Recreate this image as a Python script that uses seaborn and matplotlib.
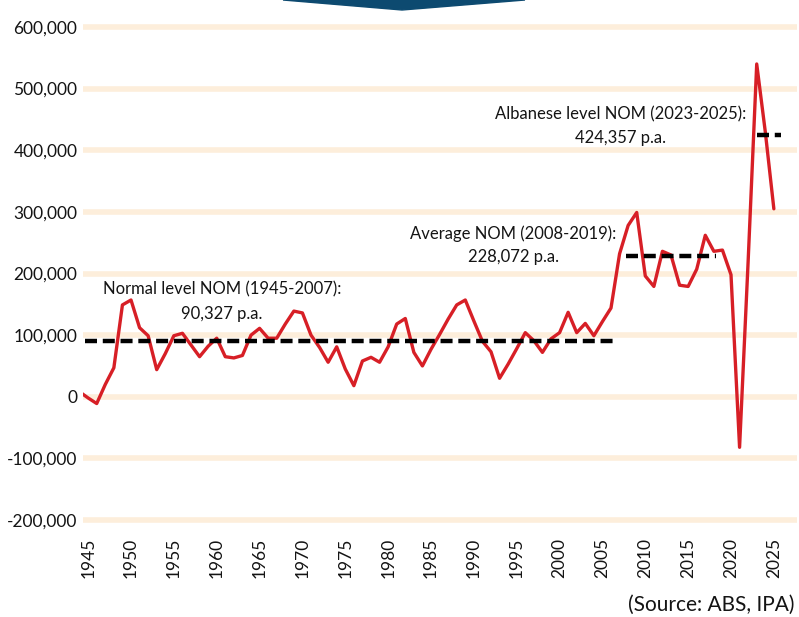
import numpy as np
import pandas as pd
import seaborn as sns
import matplotlib.pyplot as plt
from matplotlib.patches import Polygon
from matplotlib.ticker import FuncFormatter

# Net overseas migration by year (persons)
years = list(range(1944, 2026))
nom = [
    8000, -2000, -11000, 20000, 47000, 149000, 157000, 112000, 99000, 44000,   # 1944-1953
    70000, 99000, 103000, 84000, 65000, 82000, 95000, 65000, 63000, 67000,     # 1954-1963
    100000, 111000, 95000, 95000, 118000, 139000, 136000, 100000, 80000, 56000,  # 1964-1973
    81000, 45000, 18000, 58000, 64000, 56000, 81000, 118000, 127000, 72000,    # 1974-1983
    50000, 77000, 101000, 126000, 149000, 157000, 123000, 90000, 73000, 30000,  # 1984-1993
    53000, 78000, 104000, 91000, 72000, 94000, 104000, 137000, 104000, 119000,  # 1994-2003
    99000, 122000, 144000, 232000, 278000, 299000, 196000, 179000, 236000, 230000,  # 2004-2013
    181000, 179000, 207000, 262000, 236000, 238000, 198000, -82000, 220000, 540000,  # 2014-2023
    430000, 305000,                                                              # 2024-2025
]

# period averages
avg_labels = ["Normal level NOM (1945-2007):", "Average NOM (2008-2019):",
              "Albanese level NOM (2023-2025):"]
avg_values = [90327, 228072, 424357]
avg_start = [1944.6, 2007.8, 2023.0]
avg_end = [2006.3, 2018.3, 2025.8]

x_ticks = list(range(1945, 2030, 5))
y_ticks = list(range(-200000, 700000, 100000))

RED = "#d71f26"
GRID = "#fdeedb"
INK = "#141414"

df = pd.DataFrame({"year": years, "nom": nom})

sns.set_theme(style="white")
plt.rcParams["font.family"] = ["Lato", "DejaVu Sans"]
plt.rcParams["text.color"] = INK

fig = plt.figure(figsize=(7.99, 6.17), dpi=100)
ax = fig.add_axes([83 / 799, 1 - 523.7 / 617, (797 - 83) / 799, (523.7 - 23.3) / 617])

for v in y_ticks:
    ax.axhline(v, color=GRID, lw=4, zorder=0)

sns.lineplot(data=df, x="year", y="nom", color=RED, lw=2.4, ax=ax, zorder=3)

for val, x0, x1 in zip(avg_values, avg_start, avg_end):
    ax.plot([x0, x1], [val, val], color="black", lw=3.2, dashes=(2.7, 1.3), zorder=4)

# annotations
ax.text(1960.6, 174000, avg_labels[0], ha="center", va="center", fontsize=12)
ax.text(1960.6, 135000, "90,327 p.a.", ha="center", va="center", fontsize=12)
ax.text(1994.6, 265000, avg_labels[1], ha="center", va="center", fontsize=12)
ax.text(1994.6, 226000, "228,072 p.a.", ha="center", va="center", fontsize=12)
ax.text(2007.1, 459000, avg_labels[2], ha="center", va="center", fontsize=12)
ax.text(2007.1, 420000, "424,357 p.a.", ha="center", va="center", fontsize=12)

ax.set_xlim(1944.4, 2027.7)
ax.set_ylim(-206000, 606000)
ax.set_xticks(x_ticks)
ax.set_xticklabels([str(t) for t in x_ticks], rotation=90)
ax.set_yticks(y_ticks)
ax.yaxis.set_major_formatter(FuncFormatter(lambda v, p: f"{v:,.0f}"))
ax.tick_params(axis="y", length=0, pad=4, labelsize=12.5, colors=INK)
ax.tick_params(axis="x", length=0, pad=10, labelsize=12.5, colors=INK)
ax.set_xlabel("")
ax.set_ylabel("")
sns.despine(ax=ax, left=True, bottom=True)

# dark blue banner tip at the top
fig.patches.append(Polygon([[283 / 799, 1.0], [402 / 799, 1 - 10 / 617], [525 / 799, 1.0]],
                           closed=True, transform=fig.transFigure, color="#0d4a70"))

fig.text(795 / 799, 1 - 605 / 617, "(Source: ABS, IPA)", ha="right", va="center", fontsize=15)

fig.savefig("out.png", dpi=100)
